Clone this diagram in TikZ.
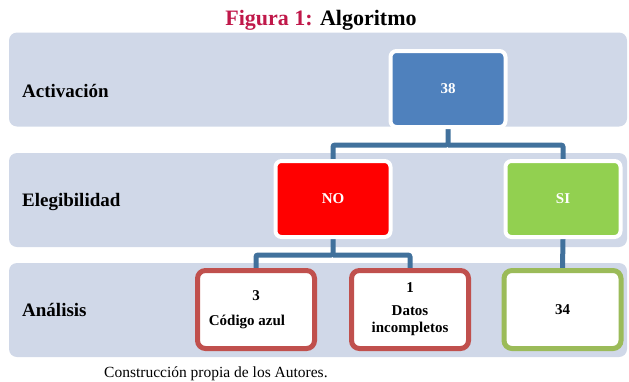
\documentclass[tikz,border=0pt]{standalone}
\usepackage{fontspec}
\setmainfont{Liberation Serif}
\usetikzlibrary{backgrounds}
\pgfdeclarelayer{bands}
\pgfsetlayers{bands,background,main}
\definecolor{bandc}{HTML}{D0D8E8}
\definecolor{connc}{HTML}{41719C}
\definecolor{bluec}{HTML}{4F81BD}
\definecolor{redc}{HTML}{FF0000}
\definecolor{greenc}{HTML}{92D050}
\definecolor{redb}{HTML}{C0504D}
\definecolor{greenb}{HTML}{9BBB59}
\definecolor{titlered}{HTML}{C0184A}
\begin{document}
\begin{tikzpicture}[x=1pt,y=-1pt,
  band/.style={fill=bandc, rounded corners=8pt, minimum width=618pt, minimum height=94pt, inner sep=0pt},
  rowlbl/.style={anchor=base west, inner sep=0pt, font=\fontsize{19}{21}\selectfont\bfseries},
  filledbox/.style={rounded corners=6pt, draw=white, line width=4pt, minimum width=115pt, minimum height=76pt, inner sep=0pt, text=white, font=\fontsize{15}{17}\selectfont\bfseries},
  outbox/.style={rounded corners=8pt, fill=white, line width=5pt, minimum width=117pt, minimum height=78pt, inner sep=0pt, align=center, font=\fontsize{15}{17}\selectfont\bfseries},
  conn/.style={draw=connc, line width=5pt, rounded corners=2pt}]
\useasboundingbox (0,0) rectangle (629,381);
\begin{pgfonlayer}{bands}
\node[band] (band1) at (318,79.5) {};
\node[band] (band2) at (318,200) {};
\node[band] (band3) at (318,310) {};
\end{pgfonlayer}
\node[anchor=base, inner sep=0pt, font=\fontsize{22}{24}\selectfont\bfseries] (title) at (321,25) {\textcolor{titlered}{Figura 1:} Algoritmo};
\node[rowlbl] (l1) at (22,97) {Activación};
\node[rowlbl] (l2) at (22,206) {Elegibilidad};
\node[rowlbl] (l3) at (22,316) {Análisis};
\node[filledbox, fill=bluec] (n38) at (448,89) {38};
\node[filledbox, fill=redc] (no) at (333,199) {NO};
\node[filledbox, fill=greenc] (si) at (563,199) {SI};
\node[outbox, draw=redb] (b3) at (256,309.5) {3\\[8pt]Código azul\kern18pt};
\node[outbox, draw=redb] (b1) at (410,309.5) {1\\[6pt]Datos\\incompletos};
\node[outbox, draw=greenb] (b34) at (562.5,309.5) {34};
\coordinate (j1) at (448,145);
\coordinate (j2) at (333,255);
\begin{pgfonlayer}{background}
\draw[conn] (n38.south) -- (j1) -| (no.north);
\draw[conn] (j1) -| (si.north);
\draw[conn] (no.south) -- (j2) -| (b3.north);
\draw[conn] (j2) -| (b1.north);
\draw[conn] (si.south) -- (b34.north);
\end{pgfonlayer}
\node[anchor=base west, inner sep=0pt, font=\fontsize{15.5}{17}\selectfont] (src) at (104,377) {Construcción propia de los Autores.};
\end{tikzpicture}
\end{document}
